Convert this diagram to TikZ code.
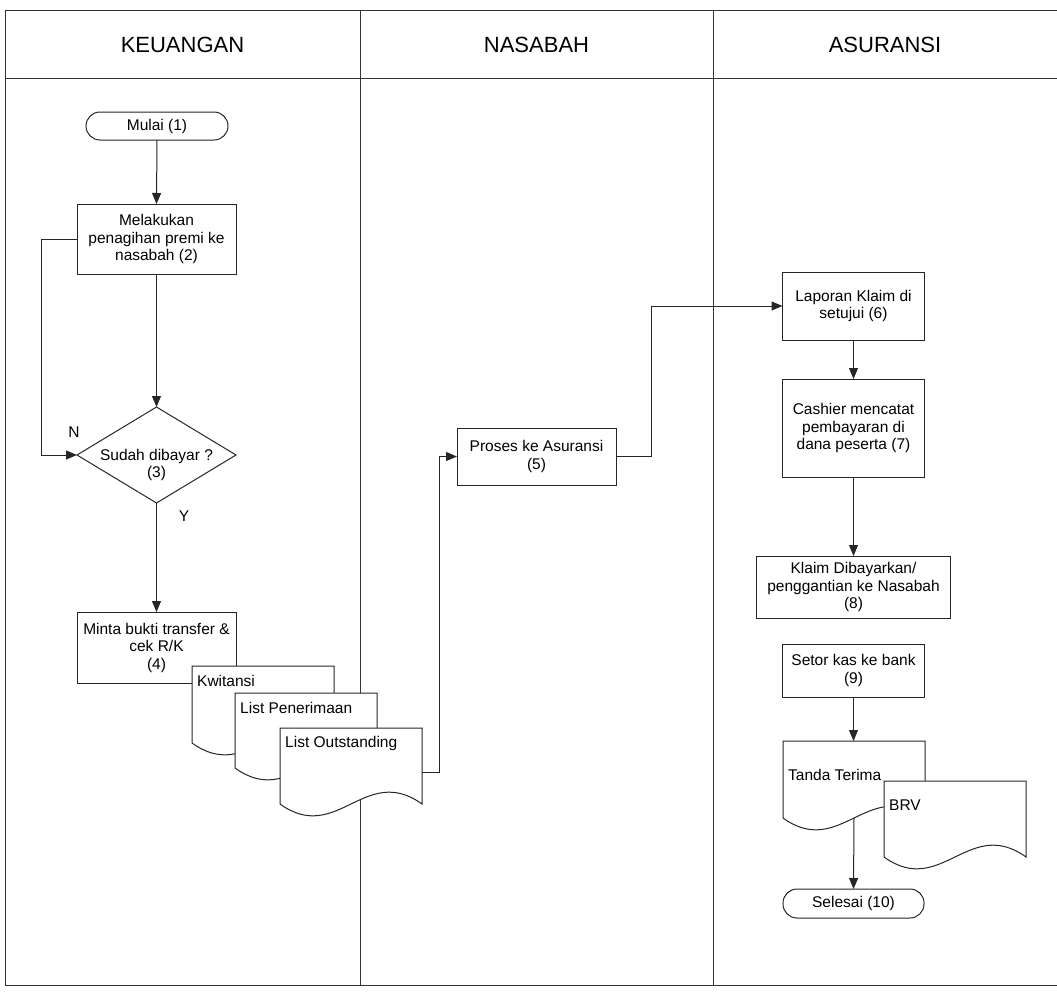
\documentclass[tikz,border=0pt]{standalone}
\usepackage{fontspec}
\setmainfont{Liberation Sans}
\usetikzlibrary{arrows.meta,calc}

\newcommand\bodyfont{\fontsize{15.5}{17.5}\selectfont}
\newcommand\headfont{\fontsize{22}{26}\selectfont}

\tikzset{
  ink/.style={draw=black!85, line width=1pt},
  lane/.style={draw=black!80, line width=1pt},
  proc/.style={ink, fill=white, rectangle, inner sep=0pt, outer sep=0pt,
               align=center, font=\bodyfont},
  term/.style={proc, rounded corners=14pt},
  arr/.style={ink, -{Triangle[length=11pt,width=9pt]}},
  link/.style={ink},
  docframe/.style={rectangle, minimum width=142pt, inner sep=0pt, outer sep=0pt},
  doctext/.style={anchor=west, inner sep=0pt, font=\bodyfont},
  hdr/.style={font=\headfont, inner sep=0pt},
  tag/.style={font=\bodyfont, inner sep=0pt},
}

% document symbol: frame node, outline with wavy bottom, label near the top
\newcommand\docnode[6]{%
  \node[docframe, minimum height=#4pt, anchor=north west] (#1) at (#2,#3) {};
  \draw[ink, fill=white] (#1.north west) -- (#1.north east) -- (#1.south east)
     .. controls +(-57,-41) and +(57,41) .. (#1.south west) -- cycle;
  \node[doctext] (#1-label) at ($(#1.north west)+(5,#5)$) {#6};
}

\begin{document}
\begin{tikzpicture}[x=1pt, y=-1pt]
\useasboundingbox (0,0) rectangle (1057,993);

% swimlane frame
\draw[lane] (1057,10) -- (5,10) -- (5,985) -- (1057,985);
\draw[lane] (5,78) -- (1057,78);
\draw[lane] (360,10) -- (360,985);
\draw[lane] (713,10) -- (713,985);

\node[hdr] (hk) at (182.5,45) {KEUANGAN};
\node[hdr] (hn) at (536.5,45) {NASABAH};
\node[hdr] (ha) at (885,45) {ASURANSI};

% KEUANGAN lane
\node[term, minimum width=142pt, minimum height=28pt] (mulai) at (157,126) {Mulai (1)};
\node[proc, minimum width=159pt, minimum height=70pt] (mel) at (156.5,239)
  {Melakukan\\penagihan premi ke\\nasabah (2)};
\node[inner sep=0pt, outer sep=0pt, minimum width=159pt, minimum height=96pt] (dia) at (156.5,455) {};
\draw[ink, fill=white] (dia.north) -- (dia.east) -- (dia.south) -- (dia.west) -- cycle;
\node[proc, draw=none, fill=none] (dialabel) at (156.5,465) {Sudah dibayar ?\\(3)};
\node[proc, minimum width=159pt, minimum height=71pt] (minta) at (156.5,647.5)
  {Minta bukti transfer \&\\cek R/K\\(4)};

\node[tag] (lblN) at (74,432) {N};
\node[tag] (lblY) at (184,516) {Y};

\draw[arr] (mulai.south) -- (mel.north);
\draw[arr] (mel.south) -- (dia.north);
\draw[arr] (mel.west) -- ++(-36,0) |- (dia.west);
\draw[arr] (dia.south) -- (minta.north);

\docnode{kw}{192}{666}{77}{15}{Kwitansi}
\docnode{lp}{235}{693}{75}{15}{List Penerimaan}
\docnode{lo}{280}{728}{76}{15}{List Outstanding}

% NASABAH lane
\node[proc, minimum width=159pt, minimum height=57pt] (proses) at (536.5,456.5)
  {Proses ke Asuransi\\(5)};
\draw[arr] ([yshift=-6pt]lo.east) -- ++(17,0) |- (proses.west);

% ASURANSI lane
\node[proc, minimum width=142pt, minimum height=68pt] (lap) at (853.5,306)
  {Laporan Klaim di\\setujui (6)};
\node[proc, minimum width=142pt, minimum height=98pt] (cash) at (853.5,428)
  {Cashier mencatat\\pembayaran di\\dana peserta (7)};
\node[proc, minimum width=194pt, minimum height=62pt] (klaim) at (853.5,587)
  {Klaim Dibayarkan/\\penggantian ke Nasabah\\(8)};
\node[proc, minimum width=142pt, minimum height=53pt] (setor) at (853.5,670.5)
  {Setor kas ke bank\\(9)};

\draw[arr] (proses.east) -- ++(35,0) |- (lap.west);
\draw[arr] (lap.south) -- (cash.north);
\draw[arr] (cash.south) -- (klaim.north);

\docnode{tt}{783}{741}{77}{34}{Tanda Terima}
\draw[arr] (setor.south) -- (tt.north -| setor.south);
\docnode{brv}{884}{781}{76}{24}{BRV}

\node[term, minimum width=141pt, minimum height=29pt] (selesai) at (853.5,903.5) {Selesai (10)};
\draw[arr] (tt.south) -- (selesai.north);

\end{tikzpicture}
\end{document}
